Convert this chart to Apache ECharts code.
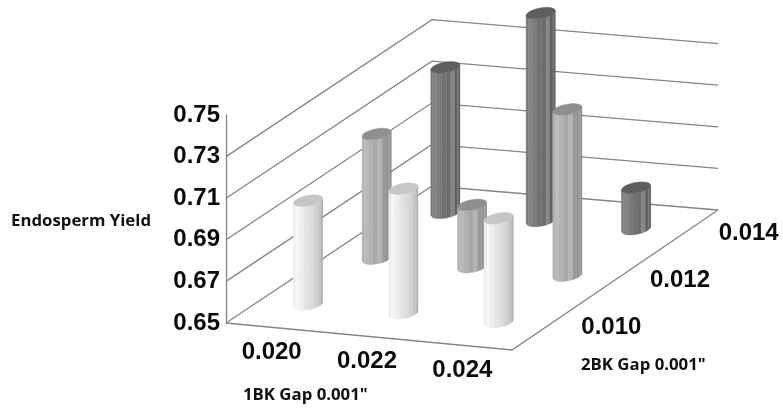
<!DOCTYPE html>
<html>
<head>
<meta charset="utf-8">
<style>html,body{margin:0;padding:0;background:#fff}#chart{width:783px;height:410px}</style>
<script src="https://cdn.jsdelivr.net/npm/echarts@6/dist/echarts.min.js"></script>
</head>
<body>
<div id="chart"></div>
<script>
// Tick labels and categories
const oneBkGaps = ['0.020', '0.022', '0.024'];
const twoBkGaps = ['0.010', '0.012', '0.014'];
const yTicks = [0.65, 0.67, 0.69, 0.71, 0.73, 0.75];
const wallTicks = [0.65, 0.67, 0.69, 0.71, 0.73];

// Endosperm yield per 2BK gap, one value per 1BK gap
const yieldAt010 = [0.70, 0.71, 0.70];
const yieldAt012 = [0.71, 0.68, 0.73];
const yieldAt014 = [0.72, 0.75, 0.67];

// Facet shades of the cylinders, left to right, plus the cap colour
const shades = [
  { cap: '#c6c6c6', body: ['#eeeeee','#f6f6f6','#eeeeee','#e4e4e4','#dcdcdc','#d2d2d2','#c8c8c8','#bcbcbc','#a8a8a8'] },
  { cap: '#8f8f8f', body: ['#b2b2b2','#bababa','#b2b2b2','#a8a8a8','#b4b4b4','#9a9a9a','#939393','#a2a2a2','#7c7c7c'] },
  { cap: '#5e5e5e', body: ['#7a7a7a','#848484','#7c7c7c','#727272','#6c6c6c','#868686','#606060','#747474','#525252'] }
];

const GRID_COLOR = '#858585';
const LABEL_FONT = 'bold 24px "Liberation Sans", Arial, sans-serif';
const NOTE_FONT = 'bold 16.8px "Open Sans", Lato, sans-serif';

// Oblique floor: the cartesian grid is the front-left wall plane; a row moves
// the point back along the depth edge, and a column drops along the front edge.
const DEPTH_X = 206, DEPTH_Y = -137, FRONT_DROP = 27, TAPER = -3, FRONT_W = 286;
function project(api, col, row, val) {
  const p = api.coord([col, val]);
  const u = (col + 0.5) / 3, v = (row + 0.5) / 3;
  return [p[0] + DEPTH_X * v, p[1] + FRONT_DROP * u + DEPTH_Y * v + TAPER * u * v];
}

const CYL = 0.124;
function renderCylinder(row) {
  return function (params, api) {
    const col = api.value(0), val = api.value(1);
    const base = project(api, col, row, yTicks[0]);
    const top = project(api, col, row, val);
    // Radius vectors of the circular section, along the floor's two directions
    const ux = CYL * FRONT_W / 3, uy = CYL * FRONT_DROP / 3;
    const vx = CYL * DEPTH_X / 3, vy = CYL * DEPTH_Y / 3;
    const pt = (c, t) => [c[0] + ux * Math.cos(t) + vx * Math.sin(t),
                          c[1] + uy * Math.cos(t) + vy * Math.sin(t)];
    const t0 = Math.atan2(vx, ux);
    const body = shades[row].body;
    const children = [];
    const n = body.length;
    const ang = f => t0 + Math.PI + Math.PI * Math.pow(f, 0.8);
    for (let i = 0; i < n; i++) {
      const a = ang(i / n), b = ang((i + 1) / n);
      const pts = [pt(top, a), pt(top, b), pt(base, b), pt(base, a)];
      children.push({ type: 'polygon', shape: { points: pts },
        style: { fill: body[i], stroke: body[i], lineWidth: 0.4 } });
    }
    // The cap sits on top of the facets
    const cap = [];
    for (let i = 0; i < 48; i++) cap.push(pt(top, i / 48 * Math.PI * 2));
    children.push({ type: 'polygon', shape: { points: cap },
      style: { fill: shades[row].cap, stroke: shades[row].cap, lineWidth: 0.4 } });
    return { type: 'group', children };
  };
}

function renderWall(params, api) {
  const val = api.value(0);
  return { type: 'polyline',
    shape: { points: [project(api, -0.5, -0.5, val), project(api, -0.5, 2.5, val), project(api, 2.5, 2.5, val)] },
    style: { fill: 'none', stroke: GRID_COLOR, lineWidth: 1.3 } };
}

function renderFloorEdge(params, api) {
  const f = yTicks[0];
  return { type: 'polyline',
    shape: { points: [project(api, -0.5, -0.5, f), project(api, 2.5, -0.5, f), project(api, 2.5, 2.5, f)] },
    style: { fill: 'none', stroke: GRID_COLOR, lineWidth: 1.3 } };
}

function renderColLabel(params, api) {
  const i = api.value(0);
  const p = project(api, i, -0.5, yTicks[0]);
  return { type: 'text', style: { x: p[0] - 2, y: p[1] + 25, text: oneBkGaps[i], font: LABEL_FONT,
    fill: '#0a0a0a', align: 'center', verticalAlign: 'middle' } };
}

function renderRowLabel(params, api) {
  const i = api.value(0);
  const p = project(api, 2.5, i, yTicks[0]);
  return { type: 'text', style: { x: p[0] + 65, y: p[1] + 0.5, text: twoBkGaps[i], font: LABEL_FONT,
    fill: '#0a0a0a', align: 'center', verticalAlign: 'middle' } };
}

const cylinderData = arr => arr.map((v, i) => [i, v]);

const chart = echarts.init(document.getElementById('chart'), null, { renderer: 'canvas' });
chart.setOption({
  animation: false,
  backgroundColor: '#ffffff',
  grid: { left: 226, top: 115, width: 286, height: 208 },
  xAxis: { type: 'value', min: -0.5, max: 2.5, show: false },
  yAxis: {
    type: 'value', min: 0.65, max: 0.75,
    axisLine: { show: true, onZero: false, lineStyle: { color: GRID_COLOR, width: 1.3 } },
    axisTick: { show: false },
    splitLine: { show: false },
    axisLabel: {
      customValues: yTicks, margin: 6, color: '#0a0a0a',
      fontFamily: '"Liberation Sans", Arial, sans-serif', fontWeight: 'bold', fontSize: 24,
      formatter: v => v.toFixed(2)
    }
  },
  graphic: [
    { type: 'text', left: 11, top: 213, style: { text: 'Endosperm Yield', font: NOTE_FONT, fill: '#111' } },
    { type: 'text', left: 243, top: 387, style: { text: '1BK Gap 0.001"', font: NOTE_FONT, fill: '#111' } },
    { type: 'text', left: 581, top: 357, style: { text: '2BK Gap 0.001"', font: NOTE_FONT, fill: '#111' } }
  ],
  series: [
    { type: 'custom', name: 'walls', z: 1, silent: true, clip: false, renderItem: renderWall,
      data: wallTicks.map(v => [v]), encode: { x: -1, y: -1 } },
    { type: 'custom', name: 'floor', z: 1, silent: true, clip: false, renderItem: renderFloorEdge,
      data: [[0]], encode: { x: -1, y: -1 } },
    { type: 'custom', name: twoBkGaps[2], z: 2, clip: false, renderItem: renderCylinder(2),
      data: cylinderData(yieldAt014) },
    { type: 'custom', name: twoBkGaps[1], z: 3, clip: false, renderItem: renderCylinder(1),
      data: cylinderData(yieldAt012) },
    { type: 'custom', name: twoBkGaps[0], z: 4, clip: false, renderItem: renderCylinder(0),
      data: cylinderData(yieldAt010) },
    { type: 'custom', name: 'oneBk', z: 5, silent: true, clip: false, renderItem: renderColLabel,
      data: oneBkGaps.map((s, i) => [i]), encode: { x: -1, y: -1 } },
    { type: 'custom', name: 'twoBk', z: 5, silent: true, clip: false, renderItem: renderRowLabel,
      data: twoBkGaps.map((s, i) => [i]), encode: { x: -1, y: -1 } }
  ]
});
</script>
</body>
</html>
